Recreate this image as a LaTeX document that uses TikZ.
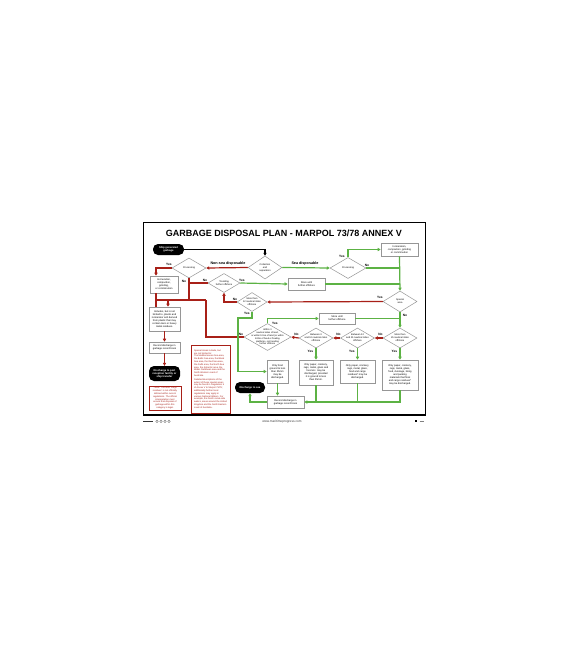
\documentclass[tikz,border=0pt]{standalone}
\usepackage{fontspec}
\setmainfont{Liberation Sans}
\usetikzlibrary{shapes.geometric, arrows.meta, positioning}
\definecolor{disred}{RGB}{168,32,24}
\definecolor{disgreen}{RGB}{92,178,68}
\definecolor{boxgray}{RGB}{150,150,150}
\tikzset{
  txt/.style={font=\fontsize{2.5}{3}\selectfont},
  box/.style={draw=boxgray, fill=white, line width=0.6pt, inner sep=1pt, align=center, txt},
  pill/.style={fill=black, text=white, rounded corners=5pt, inner sep=1pt, align=center,
    font=\fontsize{2.6}{3.1}\selectfont\bfseries},
  dia/.style 2 args={diamond, draw=boxgray, fill=white, line width=0.5pt,
    minimum width=#1, minimum height=#2, inner sep=0pt},
  dtxt/.style={align=center, font=\fontsize{2.4}{2.9}\selectfont},
  redbox/.style={draw=disred, line width=0.5pt, text=disred, inner sep=1pt,
    font=\fontsize{2.3}{2.8}\selectfont},
  yn/.style={font=\fontsize{3.2}{3.5}\selectfont\bfseries, inner sep=0pt},
  flow/.style={font=\fontsize{3.7}{4}\selectfont\bfseries, inner sep=0.5pt},
  bline/.style={draw=black, line width=1.1pt},
  rline/.style={draw=disred, line width=1.2pt},
  gline/.style={draw=disgreen, line width=1.2pt},
  barrow/.style={bline, -{Triangle[length=3pt,width=3.2pt]}},
  rarrow/.style={rline, -{Triangle[length=3pt,width=3.2pt]}},
  garrow/.style={gline, -{Triangle[length=3pt,width=3.2pt]}}
}
\begin{document}
\begin{tikzpicture}[x=1pt, y=-1pt]
  \useasboundingbox[fill=white] (0,0) rectangle (568,649);

  % poster frame
  \draw[line width=0.6pt] (143,222) rectangle (425,415);
  \draw[line width=1.6pt] (143,415) -- (425,415);
  \node[font=\fontsize{9}{10}\selectfont\bfseries] (title) at (284,233.5)
    {GARBAGE DISPOSAL PLAN - MARPOL 73/78 ANNEX V};

  % start
  \node[pill, minimum width=31, minimum height=11] (ship) at (168.5,249.5) {Ship generated\\garbage};
  \node[dia={34}{23}, label={[dtxt]center:{Collection\\and\\separation}}] (coll) at (265,267.5) {};

  % non-sea disposable side
  \node[dia={34}{20}, label={[dtxt]center:Processing}] (procL) at (189,268) {};
  \node[box, minimum width=28, minimum height=17] (incL) at (164,284.5)
    {Incineration,\\compaction,\\grinding,\\or comminution};
  \node[box, minimum width=31, minimum height=24] (includes) at (164.5,319)
    {Includes, but is not\\limited to, plastic and\\incinerator ash derived\\from plastic that may\\contain toxic or heavy\\metal residues.};
  \node[box, minimum width=31, minimum height=11] (recL) at (164.5,347.5)
    {Record discharge in\\garbage record book};
  \node[pill, minimum width=31, minimum height=15] (port) at (164.5,373.5)
    {Discharge to port\\reception facility or\\ship transfer};
  \node[redbox, minimum width=32, minimum height=24, align=center] (note) at (165,398)
    {* Note: The term `cargo\\residues' is not officially\\defined within current\\regulations. The official\\interpretation must\\ensure that disposal of\\garbage within this\\category is legal.};
  \node[redbox, minimum width=39, minimum height=68, align=left] (areas) at (210.5,379)
    {Special Areas include, but\\are not limited to:\\The Mediterranean Sea area,\\the Baltic Sea area, the Black\\Sea area, the Red Sea area,\\the Gulfs area, the North Sea\\area, the Antarctic area, the\\Wider Caribbean area and the\\North Western coast of\\Australia.\\[1pt]
     Detailed descriptions of the\\extent of these special areas\\may be found in Regulation 5\\of Annex V to Marpol 73/78;\\additionally further local\\regulations may apply in\\various National Waters. For\\example, the Dutch canal-side\\waters, areas around the United\\Kingdom and the North Eastern\\coast of Australia.};

  % sea disposable side
  \node[dia={36}{21}, label={[dtxt]center:Processing}] (procR) at (348,268) {};
  \node[box, minimum width=37, minimum height=13] (incR) at (399.5,249.5)
    {Incineration,\\compaction, grinding\\or comminution};
  \node[dia={32}{19}, label={[dtxt]center:{Trending\\further offshore}}] (trend) at (224,283) {};
  \node[box, minimum width=37, minimum height=12] (store1) at (306.5,284) {Store until\\further offshore};
  \node[dia={30}{19}, label={[dtxt]center:{More than\\12 nautical miles\\offshore}}] (m12) at (252,302) {};
  \node[dia={34}{21}, label={[dtxt]center:{Special\\area}}] (spec) at (400,301.5) {};
  \node[box, minimum width=36, minimum height=11] (store2) at (337,318.5) {Store until\\further offshore};

  % distance from land
  \node[dia={47}{27}, label={[dtxt, font=\fontsize{2.3}{2.8}\selectfont]center:{Within 3\\nautical miles of land,\\or within 12nm of land (or within\\500m of fixed or floating\\platforms, not trending\\further offshore}}] (w3) at (267.5,337) {};
  \node[dia={34}{20}, label={[dtxt]center:{Between 3\\and 12 nautical miles\\offshore}}] (b312) at (316,338) {};
  \node[dia={34}{20}, label={[dtxt]center:{Between 12\\and 25 nautical miles\\offshore}}] (b1225) at (357.5,338) {};
  \node[dia={34}{20}, label={[dtxt]center:{More than\\25 nautical miles\\offshore}}] (m25) at (400,338) {};

  % what may go overboard
  \node[box, minimum width=21, minimum height=23] (food) at (277.5,371.5)
    {Only food\\ground to less\\than 25mm\\may be\\discharged.};
  \node[box, minimum width=34, minimum height=25] (box312) at (316,372.5)
    {Only paper, crockery,\\rags, metal, glass and\\food etc. may be\\discharged, provided\\it is ground to less\\than 25mm.};
  \node[box, minimum width=35, minimum height=23] (box1225) at (357.5,371.5)
    {Only paper, crockery,\\rags, metal, glass,\\food and cargo\\residues* may be\\discharged.};
  \node[box, minimum width=36, minimum height=30] (box25) at (400,375)
    {Only paper, crockery,\\rags, metal, glass,\\food, dunnage, lining\\and packing\\materials that float\\and cargo residues*\\may be discharged.};
  \node[box, minimum width=37, minimum height=12] (recB) at (285.5,402)
    {Record discharge in\\garbage record book};
  \node[pill, minimum width=30, minimum height=11] (sea) at (250,387.5) {Discharge to sea};

  % connectors
  \coordinate (redbus-l) at (156,300);
  \coordinate (redbus-m) at (168,300);
  \coordinate (redbus-r) at (206,300);
  \coordinate (gbend) at (238,318);
  \draw[barrow] (ship.east) -| (coll.north);
  \draw[rarrow] (coll.west) -- (procL.east);
  \draw[garrow] (coll.east) -- (procR.west);
  \draw[garrow] (procR.north) |- (incR.west);
  \draw[gline] (procR.east) -- (procR.east -| incR.south);
  \draw[garrow] (incR.south) -- (spec.north);
  \draw[rarrow] (procL.west) -| (redbus-l |- incL.north);
  \draw[rline] (redbus-l |- incL.south) -- (redbus-l |- includes.north);
  \draw[rline] (redbus-l) -- (redbus-r);
  \draw[rline] (procL.south) -- (procL.south |- redbus-r);
  \draw[rline] (trend.west) -- (trend.west -| procL.south);
  \draw[rarrow] (redbus-m) -- (redbus-m |- includes.north);
  \draw[rline] (w3.west) -| (redbus-r);
  \draw[rarrow] (m12.west) -| (trend.south);
  \draw[rarrow] (spec.west) -- (m12.east);
  \draw[garrow] (trend.east) -- (store1.west);
  \draw[gline] (store1.east) -- (store1.east -| spec.north);
  \draw[garrow] (m12.south) |- (gbend) |- (food.west);
  \draw[garrow] (w3.north) |- (store2.west);
  \draw[gline] (store2.east) -- (store2.east -| spec.south);
  \draw[garrow] (spec.south) -- (m25.north);
  \draw[rarrow] (m25.west) -- (b1225.east);
  \draw[rarrow] (b1225.west) -- (b312.east);
  \draw[rarrow] (b312.west) -- (w3.east);
  \draw[garrow] (b312.south) -- (box312.north);
  \draw[garrow] (b1225.south) -- (box1225.north);
  \draw[garrow] (m25.south) -- (box25.north);
  \draw[garrow] (food.south) -- (food.south |- recB.north);
  \draw[garrow] (box25.south) |- (recB.east);
  \draw[gline] (box1225.south) -- (box1225.south |- recB.east);
  \draw[gline] (box312.south) -- (box312.south |- recB.east);
  \draw[garrow] (recB.west) -| (sea.south);
  \draw[rarrow] (includes.south) -- (recL.north);
  \draw[rarrow] (recL.south) -- (port.north);

  % branch labels
  \node[flow] (l-nonsea) at (228,263.5) {Non-sea disposable};
  \node[flow] (l-sea) at (305,263.5) {Sea disposable};
  \node[yn] (procL-yes) at (169,264) {Yes};
  \node[yn] (procL-no) at (184,281) {No};
  \node[yn] (procR-yes) at (342,256) {Yes};
  \node[yn] (procR-no) at (367,265) {No};
  \node[yn] (trend-no) at (205,280.5) {No};
  \node[yn] (trend-yes) at (242,280.5) {Yes};
  \node[yn] (m12-no) at (235,299) {No};
  \node[yn] (m12-yes) at (247,313.5) {Yes};
  \node[yn] (spec-yes) at (380,297.5) {Yes};
  \node[yn] (spec-no) at (405,315.5) {No};
  \node[yn] (w3-no) at (241,334) {No};
  \node[yn] (w3-yes) at (275,323.5) {Yes};
  \node[yn] (b312-no) at (296.5,334.5) {No};
  \node[yn] (b1225-no) at (338.5,334.5) {No};
  \node[yn] (m25-no) at (380.5,334.5) {No};
  \node[yn] (b312-yes) at (310.5,351.5) {Yes};
  \node[yn] (b1225-yes) at (352,351.5) {Yes};
  \node[yn] (m25-yes) at (394.5,351.5) {Yes};

  % footer
  \node[font=\fontsize{3.2}{3.5}\selectfont, text=black!75] (web) at (282,421.5) {www.maritimeprogress.com};
  \fill[black!80] (143,420.6) rectangle (153,422.2);
  \foreach \x in {157,161,165,169}
    \draw[black!60, line width=0.3pt] (\x,421.4) circle (1.3);
  \fill (415,420.2) rectangle (417.2,422.4);
  \draw[black!50, line width=0.5pt] (419.5,421.3) -- (424,421.3);
\end{tikzpicture}
\end{document}
